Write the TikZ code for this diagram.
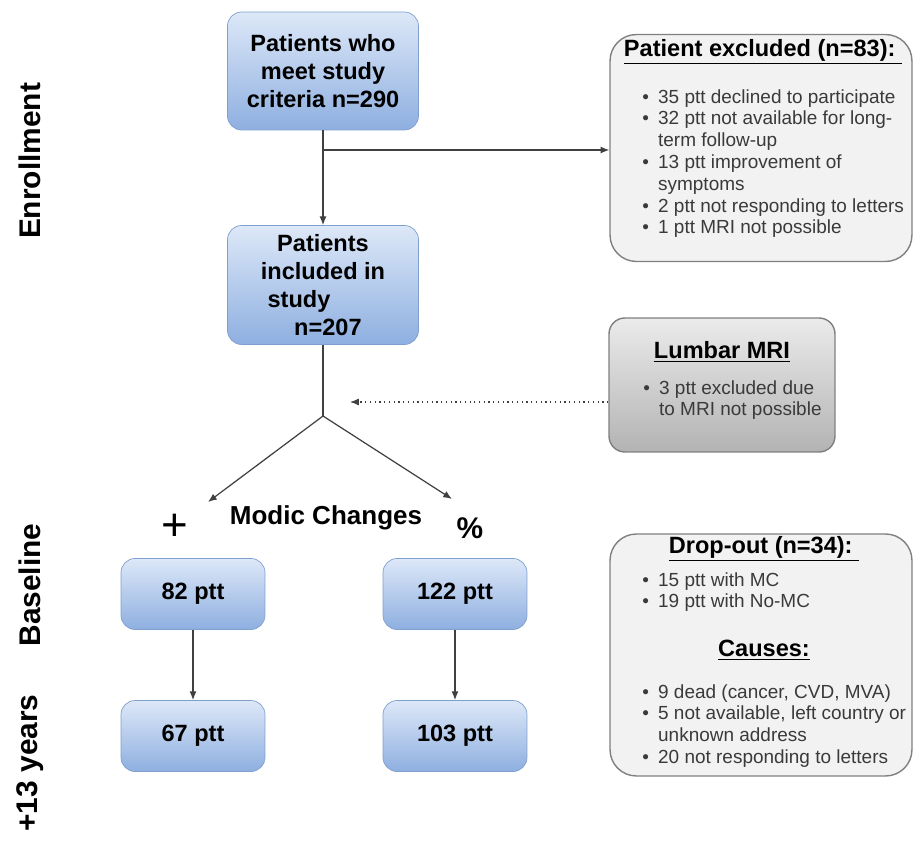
\documentclass[tikz,border=0pt]{standalone}
\usepackage{fontspec}
\setmainfont{Liberation Sans}
\usetikzlibrary{arrows.meta, positioning, calc}
\definecolor{BoxTop}{HTML}{DDE8F8}
\definecolor{BoxBottom}{HTML}{8EAFE0}
\definecolor{BoxLine}{HTML}{7F9FCF}
\definecolor{PanelFill}{HTML}{F2F2F2}
\definecolor{PanelLine}{HTML}{808080}
\definecolor{MriTop}{HTML}{EBEBEB}
\definecolor{MriBottom}{HTML}{B3B3B3}
\definecolor{LineGray}{HTML}{404040}
\definecolor{TextGray}{HTML}{3A3A3A}
\newcommand{\itm}{\makebox[9pt][l]{\textbullet}}
\newcommand{\cnt}{\hspace*{9pt}}

\begin{document}
\begin{tikzpicture}[x=0.02cm, y=-0.02cm, >={Latex[length=5pt, width=4pt]},
    ptbox/.style={draw=BoxLine, rounded corners=8pt, top color=BoxTop, bottom color=BoxBottom, align=center, font=\fontsize{13.4}{16}\selectfont\bfseries},
    panel/.style={draw=PanelLine, fill=PanelFill, rounded corners=15pt, line width=0.8pt},
    head/.style={inner sep=0pt, font=\fontsize{13.4}{16}\selectfont\bfseries},
    items/.style={inner sep=0pt, anchor=north west, align=left, text=TextGray, font=\fontsize{10.8}{12.4}\selectfont},
    phase/.style={rotate=90, font=\fontsize{17}{20}\selectfont\bfseries},
    link/.style={color=LineGray, line width=0.7pt}]
    \useasboundingbox (0,0) rectangle (914,848);

    \node[phase] (lblEnroll) at (30,161) {Enrollment};
    \node[phase] (lblBase) at (30,585) {Baseline};
    \node[phase] (lblYears) at (30,763) {+13 years};

    \node[ptbox, minimum width=3.82cm, minimum height=2.36cm] (crit) at (323,71) {Patients who\\meet study\\criteria n=290};
    \node[ptbox, minimum width=3.82cm, minimum height=2.38cm] (incl) at (323,285) {Patients\\included in\\\makebox[63pt][l]{study}\\\makebox[44pt][r]{n=207}};

    \node[ptbox, minimum width=2.88cm, minimum height=1.42cm] (mcPos) at (193,594) {82 ptt};
    \node[ptbox, minimum width=2.88cm, minimum height=1.42cm] (mcNeg) at (455,594) {122 ptt};
    \node[ptbox, minimum width=2.88cm, minimum height=1.42cm] (mcPos13) at (193,736) {67 ptt};
    \node[ptbox, minimum width=2.88cm, minimum height=1.42cm] (mcNeg13) at (455,736) {103 ptt};

    \node[font=\fontsize{26}{30}\selectfont] (plus) at (175,527) {+};
    \node[font=\fontsize{14.8}{18}\selectfont\bfseries] (modic) at (326,518) {Modic Changes};
    \node[font=\fontsize{17}{20}\selectfont\bfseries] (pct) at (470,528) {\%};

    \node[panel, minimum width=6.04cm, minimum height=4.54cm] (excl) at (761,148) {};
    \node[head] (exclHead) at (763,52) {\underline{Patient excluded (n=83):\ }};
    \node[items] (exclList) at (642,89) {\itm 35 ptt declined to participate\\
        \itm 32 ptt not available for long-\\
        \cnt term follow-up\\
        \itm 13 ptt improvement of\\
        \cnt symptoms\\
        \itm 2 ptt not responding to letters\\
        \itm 1 ptt MRI not possible};

    \node[draw=PanelLine, rounded corners=9pt, top color=MriTop, bottom color=MriBottom, line width=0.8pt, minimum width=4.52cm, minimum height=2.68cm] (mri) at (722,385) {};
    \node[head] (mriHead) at (722,352) {\underline{Lumbar MRI}};
    \node[items] (mriList) at (643,380) {\itm 3 ptt excluded due\\
        \cnt to MRI not possible};

    \node[panel, minimum width=6.04cm, minimum height=4.84cm] (drop) at (761,655) {};
    \node[head] (dropHead) at (764,549) {\underline{Drop-out (n=34):\ }};
    \node[items] (dropList) at (642,572) {\itm 15 ptt with MC\\
        \itm 19 ptt with No-MC};
    \node[head] (causeHead) at (764,650) {\underline{Causes:}};
    \node[items] (causeList) at (642,684) {\itm 9 dead (cancer, CVD, MVA)\\
        \itm 5 not available, left country or\\
        \cnt unknown address\\
        \itm 20 not responding to letters};

    \coordinate (split) at (323,150);
    \coordinate (fork) at (323,416);
    \coordinate (plusEnd) at (208,502);
    \coordinate (pctEnd) at (452,499);
    \coordinate (dotEnd) at (350,402);

    \draw[link, ->] (crit) -- (incl);
    \draw[link, ->] (split) -- (split -| excl.west);
    \draw[link] (incl) -- (fork);
    \draw[link, ->] (fork) -- (plusEnd);
    \draw[link, ->] (fork) -- (pctEnd);
    \draw[link, dotted, ->] (dotEnd -| mri.west) -- (dotEnd);
    \draw[link, ->] (mcPos) -- (mcPos13);
    \draw[link, ->] (mcNeg) -- (mcNeg13);
\end{tikzpicture}
\end{document}
